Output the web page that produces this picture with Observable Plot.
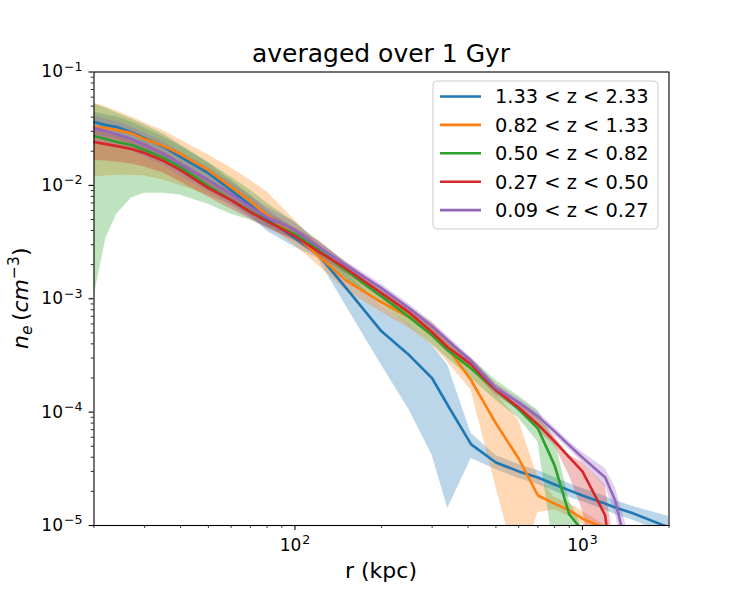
<!DOCTYPE html>
<html><head><meta charset="utf-8">
<script src="https://cdn.jsdelivr.net/npm/d3@7"></script>
<script src="https://cdn.jsdelivr.net/npm/@observablehq/plot@0.6"></script>
<style>
html,body{margin:0;padding:0;background:#fff;}
#chart{width:742px;height:590px;}
svg{display:block}
</style></head><body><div id="chart"></div>
<script>
// radius grid (kpc)
const r = [20, 22, 24, 27, 30, 35, 40, 50, 60, 70, 80, 100, 120, 150, 200, 250, 300, 340, 410, 500, 600, 700, 800, 900, 1000, 1200, 1300, 1500, 2000];

const labels = ["1.33 < z < 2.33", "0.82 < z < 1.33", "0.50 < z < 0.82", "0.27 < z < 0.50", "0.09 < z < 0.27"];
const colors = ["#1f77b4", "#ff7f0e", "#2ca02c", "#d62728", "#9467bd"];

// 1.33 < z < 2.33
const z1Mean = [3.62e-2, 3.40e-2, 3.27e-2, 2.95e-2, 2.61e-2, 2.18e-2, 1.78e-2, 1.28e-2, 9.08e-3, 6.69e-3, 5.04e-3, 3.42e-3, 2.47e-3, 1.26e-3, 5.16e-4, 3.17e-4, 1.99e-4, 1.15e-4, 5.19e-5, 3.60e-5, 3.00e-5, 2.65e-5, 2.30e-5, 2.04e-5, 1.84e-5, 1.56e-5, 1.44e-5, 1.28e-5, 9.60e-6];
const z1Hi   = [4.43e-2, 4.17e-2, 4.00e-2, 3.62e-2, 3.20e-2, 2.67e-2, 2.22e-2, 1.57e-2, 1.11e-2, 8.20e-3, 6.05e-3, 4.19e-3, 3.03e-3, 1.71e-3, 8.76e-4, 5.83e-4, 3.89e-4, 2.59e-4, 6.49e-5, 4.15e-5, 3.46e-5, 3.06e-5, 2.65e-5, 2.35e-5, 2.12e-5, 1.80e-5, 1.66e-5, 1.47e-5, 1.20e-5];
const z1Lo   = [2.83e-2, 2.67e-2, 2.56e-2, 2.31e-2, 2.05e-2, 1.70e-2, 1.42e-2, 1.00e-2, 7.11e-3, 5.35e-3, 3.94e-3, 2.85e-3, 2.28e-3, 8.76e-4, 2.59e-4, 1.04e-4, 4.17e-5, 1.41e-5, 3.90e-5, 3.12e-5, 2.60e-5, 2.30e-5, 2.00e-5, 1.77e-5, 1.63e-5, 1.36e-5, 1.25e-5, 1.11e-5, 8.33e-6];

// 0.82 < z < 1.33
const z2Mean = [3.27e-2, 3.20e-2, 3.08e-2, 2.89e-2, 2.56e-2, 2.22e-2, 1.89e-2, 1.36e-2, 9.65e-3, 7.26e-3, 5.46e-3, 3.64e-3, 2.42e-3, 1.46e-3, 9.31e-4, 6.87e-4, 4.96e-4, 3.66e-4, 1.91e-4, 7.96e-5, 3.90e-5, 1.84e-5, 1.56e-5, 1.36e-5, 1.15e-5, 9.41e-6, null, null, null];
const z2Hi   = [5.32e-2, 4.91e-2, 4.52e-2, 4.00e-2, 3.55e-2, 3.01e-2, 2.51e-2, 1.85e-2, 1.42e-2, 1.11e-2, 8.72e-3, 4.93e-3, 3.03e-3, 1.79e-3, 1.14e-3, 8.41e-4, 6.20e-4, 4.48e-4, 2.59e-4, 1.46e-4, 8.46e-5, 2.65e-5, 1.77e-5, 1.56e-5, 1.33e-5, 1.00e-5, null, null, null];
const z2Lo   = [1.18e-2, 1.21e-2, 1.23e-2, 1.23e-2, 1.21e-2, 1.11e-2, 1.00e-2, 8.20e-3, 6.69e-3, 5.46e-3, 4.46e-3, 2.97e-3, 1.98e-3, 1.19e-3, 7.60e-4, 5.49e-4, 3.89e-4, 2.75e-4, 1.56e-4, 2.17e-5, 3.93e-6, 1.30e-5, 1.38e-5, 1.20e-5, 1.02e-5, 7.50e-6, null, null, null];

// 0.50 < z < 0.82
const z3Mean = [2.72e-2, 2.56e-2, 2.41e-2, 2.27e-2, 2.05e-2, 1.74e-2, 1.45e-2, 9.85e-3, 7.41e-3, 5.93e-3, 4.83e-3, 3.71e-3, 2.74e-3, 1.79e-3, 1.05e-3, 6.87e-4, 4.76e-4, 3.51e-4, 2.43e-4, 1.56e-4, 1.06e-4, 7.18e-5, 3.39e-5, 1.25e-5, 9.03e-6, null, null, null, null];
const z3Hi   = [5.22e-2, 4.81e-2, 4.35e-2, 3.85e-2, 3.40e-2, 2.83e-2, 2.27e-2, 1.60e-2, 1.18e-2, 9.08e-3, 6.97e-3, 4.74e-3, 3.29e-3, 2.10e-3, 1.24e-3, 8.24e-4, 5.83e-4, 4.30e-4, 2.98e-4, 1.91e-4, 1.38e-4, 1.04e-4, 5.74e-5, 1.66e-5, 9.60e-6, null, null, null, null];
const z3Lo   = [1.03e-3, 3.42e-3, 5.57e-3, 7.72e-3, 8.54e-3, 8.54e-3, 8.20e-3, 6.83e-3, 5.57e-3, 4.93e-3, 4.28e-3, 3.29e-3, 2.42e-3, 1.52e-3, 8.94e-4, 5.72e-4, 3.97e-4, 2.98e-4, 1.99e-4, 1.27e-4, 8.81e-5, 5.46e-5, 5.66e-6, 2.18e-6, 1.78e-6, null, null, null, null];

// 0.27 < z < 0.50
const z4Mean = [2.41e-2, 2.31e-2, 2.22e-2, 2.09e-2, 1.93e-2, 1.64e-2, 1.36e-2, 9.46e-3, 7.41e-3, 5.80e-3, 4.83e-3, 3.56e-3, 2.63e-3, 1.86e-3, 1.12e-3, 7.54e-4, 5.06e-4, 3.73e-4, 2.64e-4, 1.56e-4, 1.10e-4, 7.79e-5, 5.52e-5, 3.98e-5, 3.00e-5, 1.23e-5, 2.18e-6, null, null];
const z4Hi   = [3.20e-2, 3.01e-2, 2.83e-2, 2.61e-2, 2.36e-2, 1.97e-2, 1.60e-2, 1.14e-2, 8.72e-3, 6.83e-3, 5.69e-3, 4.19e-3, 3.29e-3, 2.10e-3, 1.26e-3, 8.41e-4, 5.72e-4, 4.21e-4, 2.98e-4, 1.76e-4, 1.24e-4, 8.81e-5, 6.08e-5, 4.17e-5, 3.60e-5, 2.26e-5, 5.78e-6, null, null];
const z4Lo   = [1.67e-2, 1.64e-2, 1.60e-2, 1.54e-2, 1.45e-2, 1.28e-2, 1.07e-2, 7.87e-3, 6.17e-3, 5.04e-3, 4.19e-3, 3.22e-3, 2.37e-3, 1.68e-3, 1.01e-3, 6.73e-4, 4.57e-4, 3.37e-4, 2.38e-4, 1.41e-4, 1.04e-4, 6.90e-5, 5.09e-5, 2.76e-5, 1.36e-5, 1.31e-6, 7.87e-7, null, null];

// 0.09 < z < 0.27
const z5Mean = [3.20e-2, 3.01e-2, 2.83e-2, 2.56e-2, 2.27e-2, 1.89e-2, 1.54e-2, 1.11e-2, 8.37e-3, 6.43e-3, 5.24e-3, 4.03e-3, 2.91e-3, 1.98e-3, 1.24e-3, 8.24e-4, 5.72e-4, 4.30e-4, 2.81e-4, 1.62e-4, 1.22e-4, 9.17e-5, 6.76e-5, 5.09e-5, 3.98e-5, 2.65e-5, 1.66e-5, 3.62e-6, null];
const z5Hi   = [4.09e-2, 3.85e-2, 3.62e-2, 3.27e-2, 2.89e-2, 2.41e-2, 1.97e-2, 1.42e-2, 1.05e-2, 8.04e-3, 6.43e-3, 4.74e-3, 3.15e-3, 2.14e-3, 1.34e-3, 8.94e-4, 6.20e-4, 4.67e-4, 3.04e-4, 1.76e-4, 1.32e-4, 9.95e-5, 7.33e-5, 5.52e-5, 4.41e-5, 3.19e-5, 2.17e-5, 6.14e-6, null];
const z5Lo   = [2.51e-2, 2.36e-2, 2.22e-2, 2.01e-2, 1.78e-2, 1.48e-2, 1.21e-2, 8.72e-3, 6.69e-3, 5.14e-3, 4.28e-3, 3.35e-3, 2.68e-3, 1.82e-3, 1.14e-3, 7.60e-4, 5.27e-4, 3.97e-4, 2.59e-4, 1.49e-4, 1.12e-4, 8.46e-5, 6.20e-5, 4.69e-5, 3.60e-5, 2.21e-5, 1.30e-5, 2.18e-6, null];

const xMajorTicks = [100, 1000];
const xMinorTicks = [20, 30, 40, 50, 60, 70, 80, 90, 200, 300, 400, 500, 600, 700, 800, 900, 2000];
const yMajorTicks = [1e-5, 1e-4, 1e-3, 1e-2, 1e-1];
const yMinorTicks = [2,3,4,5,6,7,8,9].flatMap(k => [1e-5, 1e-4, 1e-3, 1e-2].map(p => k * p));
const titleText = "averaged over 1 Gyr";
const xLabelText = "r (kpc)";

const series = [
  {label: labels[0], color: colors[0], mean: z1Mean, lo: z1Lo, hi: z1Hi},
  {label: labels[1], color: colors[1], mean: z2Mean, lo: z2Lo, hi: z2Hi},
  {label: labels[2], color: colors[2], mean: z3Mean, lo: z3Lo, hi: z3Hi},
  {label: labels[3], color: colors[3], mean: z4Mean, lo: z4Lo, hi: z4Hi},
  {label: labels[4], color: colors[4], mean: z5Mean, lo: z5Lo, hi: z5Hi}
];
const rowsOf = s => r.map((x, i) => ({r: x, mean: s.mean[i], lo: s.lo[i], hi: s.hi[i], z: s.label}));

const supMap = {"-": "⁻", "0": "⁰", "1": "¹", "2": "²", "3": "³", "4": "⁴", "5": "⁵", "6": "⁶", "7": "⁷", "8": "⁸", "9": "⁹"};
const unSup = {};
Object.entries(supMap).forEach(([k, v]) => unSup[v] = (k === "-" ? "\u2212" : k));
const pow10 = d => "10" + String(Math.round(Math.log10(d))).split("").map(c => supMap[c] ?? c).join("");

const W = 742, H = 590, mL = 93.5, mR = 73.5, mT = 71.5, mB = 65;
const FONT = "DejaVu Sans";
const TICKFS = 17;

const marks = [];
series.forEach(s => marks.push(Plot.areaY(rowsOf(s).filter(d => d.lo != null && d.hi != null),
  {x: "r", y1: "lo", y2: "hi", fill: s.color, fillOpacity: 0.3, clip: true})));
series.forEach(s => marks.push(Plot.line(rowsOf(s).filter(d => d.mean != null),
  {x: "r", y: "mean", stroke: s.color, strokeWidth: 2.6, clip: true})));

const plot = Plot.plot({
  width: W, height: H,
  marginLeft: mL, marginRight: mR, marginTop: mT, marginBottom: mB,
  style: {fontFamily: FONT, background: "white", color: "black"},
  x: {type: "log", domain: [20, 2000]},
  y: {type: "log", domain: [1e-5, 1e-1]},
  marks: [
    ...marks,
    Plot.frame({stroke: "black", strokeWidth: 1.1}),
    Plot.axisX(xMinorTicks, {tickSize: 2.8, strokeWidth: 0.85, tickFormat: () => "", label: null}),
    Plot.axisX(xMajorTicks, {tickSize: 4.9, strokeWidth: 1.1, tickPadding: 8.4, tickFormat: pow10, fontSize: TICKFS, label: null}),
    Plot.axisY(yMinorTicks, {tickSize: 2.8, strokeWidth: 0.85, tickFormat: () => "", label: null}),
    Plot.axisY(yMajorTicks, {tickSize: 4.9, strokeWidth: 1.1, tickPadding: 6.6, tickFormat: pow10, fontSize: TICKFS, label: null})
  ]
});
document.getElementById("chart").append(plot);

const svg = d3.select(plot.tagName.toLowerCase() === "svg" ? plot : plot.querySelector("svg"));

// matplotlib-like mathtext superscripts for the tick labels
svg.selectAll("text").each(function() {
  const t = d3.select(this);
  const s = t.text();
  if (!/^10[⁻⁰¹²³⁴⁵⁶⁷⁸⁹]+$/.test(s)) return;
  const exp = s.slice(2).split("").map(c => unSup[c] ?? c).join("");
  t.text("").attr("font-size", TICKFS).style("font-size", TICKFS + "px");
  t.append("tspan").text("10");
  t.append("tspan").attr("font-size", TICKFS * 0.74).attr("dx", 1).attr("dy", -6.5).text(exp);
});

const cx = (mL + (W - mR)) / 2;
const cy = (mT + (H - mB)) / 2;

svg.append("text").attr("x", cx).attr("y", 62).attr("text-anchor", "middle")
  .attr("font-family", FONT).attr("font-size", 25).attr("fill", "black").text(titleText);
svg.append("text").attr("x", cx).attr("y", 578).attr("text-anchor", "middle")
  .attr("font-family", FONT).attr("font-size", 22).attr("fill", "black").text(xLabelText);

const yl = svg.append("text").attr("transform", `translate(28,${cy}) rotate(-90)`)
  .attr("text-anchor", "middle").attr("font-family", FONT).attr("font-size", 22).attr("fill", "black");
yl.append("tspan").attr("font-style", "italic").text("n");
yl.append("tspan").attr("font-style", "italic").attr("font-size", 15.5).attr("dy", 4).text("e");
yl.append("tspan").attr("dy", -4).text("\u2009(");
yl.append("tspan").attr("font-style", "italic").text("cm");
yl.append("tspan").attr("font-size", 15.5).attr("dy", -9).text("\u22123");
yl.append("tspan").attr("dy", 9).text(")");

// legend (matplotlib style, upper right)
const lgRight = W - mR - 10.5, lgTop = mT + 9.5, lgW = 225, lgH = 148;
const lg = svg.append("g");
lg.append("rect").attr("x", lgRight - lgW).attr("y", lgTop).attr("width", lgW).attr("height", lgH)
  .attr("rx", 4).attr("fill", "white").attr("fill-opacity", 0.8).attr("stroke", "#cccccc").attr("stroke-width", 1);
series.forEach((s, i) => {
  const y = lgTop + 15.5 + i * 28.4;
  lg.append("line").attr("x1", lgRight - lgW + 7).attr("x2", lgRight - lgW + 48)
    .attr("y1", y).attr("y2", y).attr("stroke", s.color).attr("stroke-width", 2.6);
  lg.append("text").attr("x", lgRight - lgW + 62).attr("y", y).attr("dy", "0.36em")
    .attr("text-anchor", "start")
    .attr("font-family", FONT).attr("font-size", 19.4).attr("fill", "black").text(s.label);
});
</script>
</body></html>
